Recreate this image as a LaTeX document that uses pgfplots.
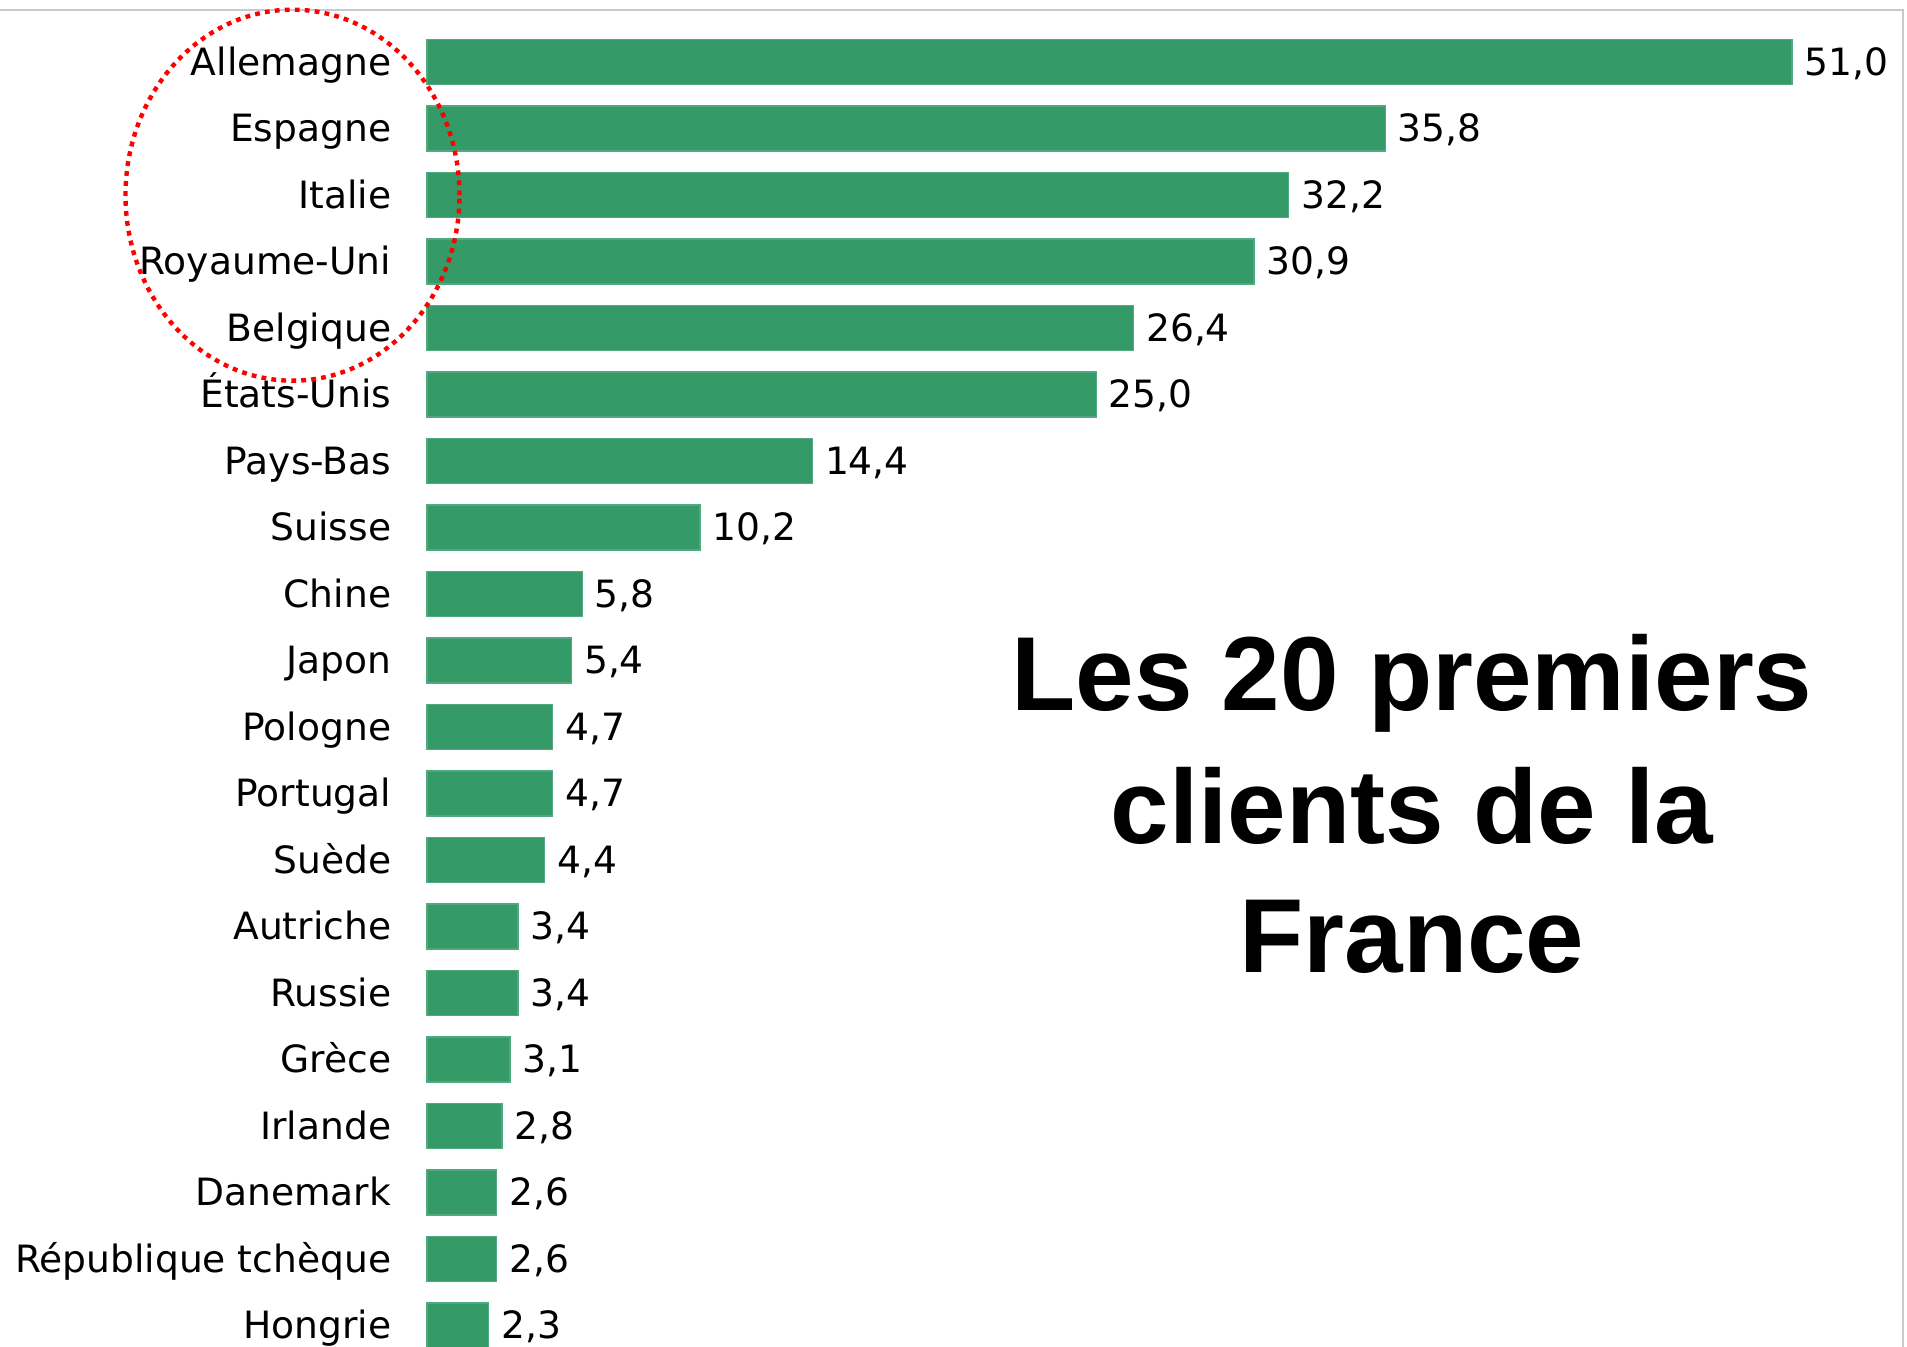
\documentclass[border=0pt]{standalone}
\usepackage{pgfplots}
\pgfplotsset{compat=1.18}
\usepackage{fontspec}
\setmainfont{DejaVu Sans}
\newfontfamily\titlefont{Liberation Sans}
\definecolor{bargreen}{RGB}{52,154,104}
\definecolor{framegray}{RGB}{200,200,208}
\begin{document}
\begin{tikzpicture}[x=0.25pt,y=0.25pt]
\draw[framegray,line width=0.5pt] (0,1337) -- (1903,1337) -- (1903,0);
\begin{axis}[
  at={(106.75pt,329.5625pt)}, anchor=north west,
  scale only axis, width=341.25pt, height=332.5pt,
  xmin=0, xmax=51, ymin=-0.5, ymax=19.5, y dir=reverse,
  axis line style={draw=none}, major tick length=0pt,
  xtick=\empty,
  ytick={0,...,19},
  yticklabels={Allemagne,Espagne,Italie,Royaume-Uni,Belgique,États-Unis,Pays-Bas,Suisse,Chine,Japon,Pologne,Portugal,Suède,Autriche,Russie,Grèce,Irlande,Danemark,République tchèque,Hongrie},
  yticklabel style={anchor=east,inner sep=0pt,xshift=-8.75pt,yshift=-0.8pt,text height=0.73em,text depth=0.22em,font=\fontsize{9.4pt}{11pt}\selectfont},
  clip=false,
  xbar, bar width=11.25pt,
  point meta=x,
  nodes near coords,
  nodes near coords style={anchor=west,inner sep=0pt,xshift=3pt,yshift=-0.8pt,text height=0.73em,text depth=0.22em,font=\fontsize{9.4pt}{11pt}\selectfont,
    /pgf/number format/.cd,fixed,fixed zerofill,precision=1,use comma,assume math mode=true},
]
\addplot[fill=bargreen,draw=bargreen!85!white,line width=0.3pt] coordinates {
(51.0,0) (35.8,1) (32.2,2) (30.9,3) (26.4,4) (25.0,5) (14.4,6) (10.2,7)
(5.8,8) (5.4,9) (4.7,10) (4.7,11) (4.4,12) (3.4,13) (3.4,14) (3.1,15)
(2.8,16) (2.6,17) (2.6,18) (2.3,19)};
\end{axis}
\draw[red,line width=1.1pt,dash pattern=on 1.2pt off 1.3pt] (292.5,1151.8) ellipse [x radius=167, y radius=185.5];
\node[anchor=base,inner sep=0pt,font=\titlefont\bfseries\fontsize{26.3pt}{32pt}\selectfont] at (1412,636) {Les 20 premiers};
\node[anchor=base,inner sep=0pt,font=\titlefont\bfseries\fontsize{26.3pt}{32pt}\selectfont] at (1412,503) {clients de la};
\node[anchor=base,inner sep=0pt,font=\titlefont\bfseries\fontsize{26.3pt}{32pt}\selectfont] at (1412,374) {France};
\pgfresetboundingbox
\useasboundingbox (0,0) rectangle (1907,1347);
\end{tikzpicture}
\end{document}
